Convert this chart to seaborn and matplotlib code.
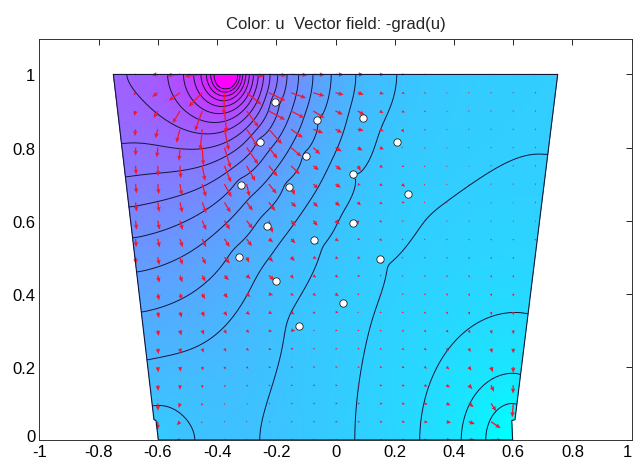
import numpy as np
import matplotlib
matplotlib.use('Agg')
import matplotlib.pyplot as plt
import matplotlib.transforms as mtransforms
import seaborn as sns
from matplotlib.patches import Polygon

sns.set_theme(style="white")
plt.rcParams['font.family'] = ['Liberation Sans', 'DejaVu Sans']

# domain outline, clockwise from the top-left corner
domain_x = [-0.75, 0.75, 0.606, 0.595, 0.598, -0.598, -0.606, -0.613]
domain_y = [1.0, 1.0, 0.056, 0.053, 0.0, 0.0, 0.053, 0.056]

# source electrode on the top edge
src_x, src_y, src_r = -0.37, 1.0, 0.035

# absorbing spots: small holes and the two bottom corners
hole_x = [-0.204, -0.062, 0.093, -0.255, -0.100, 0.208, -0.319, -0.157, 0.059,
          0.245, -0.231, -0.073, 0.059, -0.326, 0.150, -0.201, 0.025, -0.123]
hole_y = [0.924, 0.875, 0.881, 0.815, 0.777, 0.815, 0.697, 0.692, 0.727,
          0.673, 0.585, 0.547, 0.593, 0.500, 0.495, 0.435, 0.375, 0.312]
hole_r = 0.012
hole_k = 200.0
corner_x = [-0.60, 0.60]
corner_y = [0.02, 0.02]
corner_r = [0.05, 0.07]
corner_k = [60.0, 230.0]

xtick_vals = [-1, -0.8, -0.6, -0.4, -0.2, 0, 0.2, 0.4, 0.6, 0.8, 1]
xtick_labels = ['-1', '-0.8', '-0.6', '-0.4', '-0.2', '0', '0.2', '0.4', '0.6', '0.8', '1']
ytick_vals = [0, 0.2, 0.4, 0.6, 0.8, 1]
ytick_labels = ['0', '0.2', '0.4', '0.6', '0.8', '1']

n_levels = 20

# --- solve laplace(u) = k u on the domain, insulated walls ---
h = 0.00625
gx = -0.7625 + h * np.arange(245)
gy = h * np.arange(161)
X, Y = np.meshgrid(gx, gy)

left_y = [domain_y[5], domain_y[6], domain_y[7], domain_y[0]]
left_x = [domain_x[5], domain_x[6], domain_x[7], domain_x[0]]
right_y = [domain_y[4], domain_y[3], domain_y[2], domain_y[1]]
right_x = [domain_x[4], domain_x[3], domain_x[2], domain_x[1]]
xl = np.interp(Y, left_y, left_x)
xr = np.interp(Y, right_y, right_x)
inside = (X >= xl - 1e-9) & (X <= xr + 1e-9)
m = inside.astype(float)


def nbsum(a):
    s = np.zeros_like(a)
    s[1:, :] += a[:-1, :]
    s[:-1, :] += a[1:, :]
    s[:, 1:] += a[:, :-1]
    s[:, :-1] += a[:, 1:]
    return s


absorb = np.zeros(X.shape)
for hx, hy in zip(hole_x, hole_y):
    absorb[np.hypot(X - hx, Y - hy) <= hole_r] = hole_k
for cx, cy, cr, ck in zip(corner_x, corner_y, corner_r, corner_k):
    absorb[np.hypot(X - cx, Y - cy) <= cr] = ck
denom = np.maximum(nbsum(m), 1) + absorb * h * h

u = np.full(X.shape, 0.3)
fixed = (np.hypot(X - src_x, Y - src_y) <= src_r) & inside
u[fixed] = 1.0
free = inside & ~fixed
red = (np.indices(X.shape).sum(0) % 2) == 0
masks = [free & red, free & ~red]
omega = 1.97
for it in range(4000):
    for mk in masks:
        gs = nbsum(u * m) / denom
        u = np.where(mk, u + omega * (gs - u), u)

# extend values outside the domain row by row (for clipped drawing)
uf = u.copy()
for j in range(len(gy)):
    idx = np.where(inside[j])[0]
    uf[j, :idx[0]] = u[j, idx[0]]
    uf[j, idx[-1] + 1:] = u[j, idx[-1]]

umin, umax = u[inside].min(), u[inside].max()
dudy, dudx = np.gradient(uf, h)

# arrow grid: every 0.075 in x, 0.05 in y
sub = (slice(0, None, 8), slice(2, None, 12))
qx, qy = X[sub], Y[sub]
qu, qv = -dudx[sub], -dudy[sub]
qin = inside[sub]
g = np.hypot(qu, qv)
gclip = np.quantile(g[qin], 0.96)
L = 0.06 * np.minimum(g, gclip) / gclip
with np.errstate(invalid='ignore', divide='ignore'):
    qu_s = np.where(g > 0, qu / g * L, 0)
    qv_s = np.where(g > 0, qv / g * L, 0)

fig = plt.figure(figsize=(6.34, 4.64), dpi=100)
ax = fig.add_axes([0.062, 0.0496, 0.9344, 0.8642])

verts = np.column_stack([domain_x, domain_y])
clip = Polygon(verts, closed=True, transform=ax.transData)

pm = ax.pcolormesh(gx, gy, uf, shading='gouraud', cmap='cool', vmin=umin, vmax=umax)
pm.set_clip_path(clip)
levels = np.linspace(umin, umax, n_levels + 2)[1:-1]
cs = ax.contour(gx, gy, uf, levels=levels, colors='#15153a', linewidths=0.7)
cs.set_clip_path(clip)

ax.quiver(qx[qin], qy[qin], qu_s[qin], qv_s[qin], angles='xy', scale_units='xy',
          scale=1, color='#f01830', width=0.0022, headwidth=3.5, headlength=4,
          headaxislength=3.5, zorder=3)

ax.add_patch(Polygon(verts, closed=True, fill=False, edgecolor='#15153a', lw=0.8, zorder=4))

sns.scatterplot(x=hole_x, y=hole_y, ax=ax, color='white', edgecolor='#222222',
                s=28, linewidth=0.6, zorder=5)

ax.set_xlim(-1, 1)
ax.set_ylim(0, 1.097)
ax.set_xticks(xtick_vals)
ax.set_xticklabels(xtick_labels)
ax.set_yticks(ytick_vals)
ax.set_yticklabels(ytick_labels)
ax.tick_params(direction='in', top=True, right=True, length=4, width=0.6,
               labelsize=12, colors='black', pad=3)
ax.get_xticklabels()[-1].set_horizontalalignment('right')
lab0 = ax.get_yticklabels()[0]
lab0.set_transform(lab0.get_transform() +
                   mtransforms.ScaledTranslation(0, 0.045, fig.dpi_scale_trans))
for sp in ax.spines.values():
    sp.set_color('#333333')
    sp.set_linewidth(0.7)
ax.grid(False)
ax.set_title('Color: u  Vector field: -grad(u)', fontsize=12, pad=8)

fig.savefig('out.png', dpi=100)
